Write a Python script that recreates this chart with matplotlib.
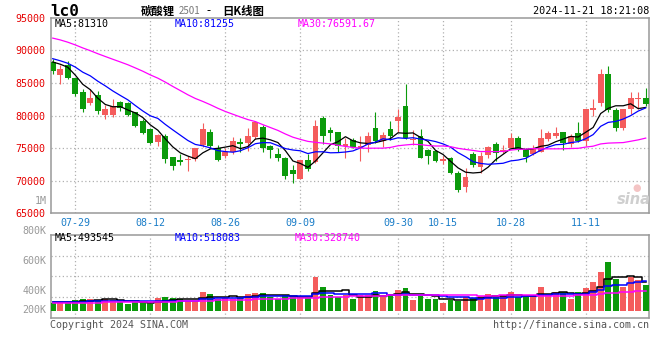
import numpy as np
import pandas as pd
import matplotlib
matplotlib.use("Agg")
import matplotlib.pyplot as plt

# daily K, 07-24 .. 11-21 (80 sessions)
opens = [88218, 86183, 87709, 85775, 83638, 81907, 83128, 80075, 80075, 82009,
         81958, 80482, 79158, 77937, 76002, 76868, 73610, 73203, 73203, 73305,
         75493, 77428, 75086, 73763, 74475, 75951, 75800, 76664, 78242, 75341,
         74119, 73458, 71676, 70200, 73152, 72847, 79616, 77784, 77428, 75290,
         76257, 75086, 75493, 78140, 76104, 77937, 79158, 81500, 76257, 76919,
         74730, 74577, 72949, 73559, 71167, 68978, 74068, 72033, 73966, 75646,
         74374, 75086, 76512, 74730, 74068, 74475, 76410, 76919, 77428, 75646,
         77377, 76155, 80889, 81856, 86437, 80838, 78038, 80991, 82518, 82620]
highs = [88626, 87709, 88320, 85800, 84045, 84045, 83842, 81601, 82518, 82213,
         82060, 80584, 79464, 78040, 77122, 77173, 73650, 74068, 73814, 75000,
         78802, 77937, 75493, 74985, 76766, 76613, 78100, 79158, 78548, 75493,
         74985, 73712, 72440, 73152, 74068, 79311, 79973, 78242, 77530, 76512,
         76512, 76919, 77530, 80584, 77428, 79158, 80991, 84808, 77784, 77937,
         74800, 74730, 73865, 73712, 71422, 71931, 74475, 74475, 75341, 76002,
         75493, 77377, 76919, 74985, 75493, 77937, 77631, 78191, 77450, 77224,
         79057, 81000, 82518, 87200, 87608, 81194, 81000, 83638, 83638, 84248]
lows = [86386, 84808, 85673, 82976, 80584, 81601, 80227, 79515, 79820, 80686,
        79973, 78293, 77224, 75700, 75340, 72643, 71676, 72338, 71524, 72949,
        75239, 74985, 72949, 73458, 74068, 74475, 74600, 76409, 74475, 73559,
        73101, 70251, 69640, 70200, 71524, 72694, 75595, 76104, 74475, 73559,
        74985, 73101, 74475, 75748, 75239, 76257, 77428, 76410, 75493, 73500,
        72592, 72796, 72541, 71014, 68215, 68215, 72033, 71167, 73559, 73050,
        74221, 74985, 74577, 72796, 73966, 74374, 76104, 76613, 74730, 75239,
        76002, 75341, 79922, 81500, 80584, 77631, 77784, 80177, 80991, 81500]
closes = [86793, 87200, 85775, 83281, 80940, 82670, 80686, 80940, 81500, 81093,
          80075, 78446, 77377, 75849, 77020, 73407, 72287, 72796, 73407, 74985,
          77937, 75290, 73203, 74374, 76104, 75646, 76900, 78955, 75086, 74781,
          73559, 70658, 71065, 73152, 71829, 78395, 76919, 77377, 75392, 75697,
          75239, 75341, 76919, 76104, 77020, 76919, 79820, 76512, 76410, 73559,
          73865, 72949, 73356, 71167, 68520, 70556, 72338, 73814, 75137, 74221,
          74730, 76512, 74730, 73712, 74832, 76613, 77377, 77377, 75748, 76868,
          76155, 80991, 81093, 86437, 80838, 78140, 80991, 82620, 82722, 81754]
volumes = [139200, 150800, 127600, 185600, 203000, 203000, 185600, 203000, 185600, 156600,
           116000, 145000, 168200, 116000, 220400, 237800, 220400, 203000, 168200, 168200,
           330600, 290000, 208800, 226200, 203000, 226200, 290000, 307400, 307400, 243600,
           208800, 266800, 249400, 220400, 226200, 591600, 417600, 266800, 232000, 266800,
           203000, 266800, 266800, 342200, 237800, 290000, 359600, 394400, 185600, 261000,
           203000, 203000, 139200, 185600, 174000, 243600, 214600, 255200, 290000, 255200,
           255200, 324800, 243600, 232000, 266800, 411800, 266800, 324800, 324800, 203000,
           324800, 394400, 498800, 672800, 846800, 545200, 411800, 580000, 533600, 446600]

# sessions before 07-24, estimated from where the MA lines start in the picture
prev_closes = [95500, 96200, 95800, 94900, 95300, 94600, 93800, 94200, 93500, 92800,
               93200, 92500, 92900, 92000, 91600, 92300, 91800, 92600, 92100, 91620,
               90400, 89600, 89100, 88800, 88280, 88900, 88100, 89300, 88000]
prev_volumes = [118000, 125000, 112000, 131000, 120000, 127000, 115000, 122000, 119000, 130000,
                124000, 117000, 128000, 121000, 133000, 126000, 119000, 135000, 129000, 122000,
                138000, 131000, 142000, 127000, 136000, 158000, 149000, 162000, 145800]

date_ticks = [3, 13, 23, 33, 46, 52, 61, 71]
date_labels = ["07-29", "08-12", "08-26", "09-09", "09-30", "10-15", "10-28", "11-11"]
price_ticks = [65000, 70000, 75000, 80000, 85000, 90000, 95000]
vol_labels = ["800K", "600K", "400K", "200K"]

RED = "#f45c5c"
GREEN = "#0b9a0b"
GRID = "#b0b0b0"
FRAME = "#999999"
MONO = "DejaVu Sans Mono"
CJK = ["Noto Sans CJK SC", "DejaVu Sans"]

W, H = 660, 360
fig = plt.figure(figsize=(6.6, 3.6), dpi=100)


def fx(px):
    return px / W


def fy(py):
    return 1 - py / H


ax = fig.add_axes([fx(50.7), fy(213.3), (649.3 - 50.7) / W, (213.3 - 17.8) / H])
axv = fig.add_axes([fx(50.7), fy(318), (649.3 - 50.7) / W, (318 - 234.7) / H])

x = np.arange(len(closes))
o = np.array(opens)
c = np.array(closes)
colors = np.where(c >= o, RED, GREEN)

# price panel
ax.vlines(x, lows, highs, colors=colors, lw=0.8, zorder=3)
ax.bar(x, np.maximum(np.abs(c - o), 60), bottom=np.minimum(o, c), width=0.78,
       color=colors, linewidth=0, zorder=4)

all_c = pd.Series(prev_closes + closes, dtype=float)
for n, col in [(5, "black"), (10, "#0000ff"), (30, "#ff00ff")]:
    ma = all_c.rolling(n).mean().values[-len(closes):]
    ax.plot(x, ma, color=col, lw=0.9, zorder=5)

ax.set_xlim(-0.27, 79.48)
ax.set_ylim(65000, 95000)
for v in price_ticks[1:-1]:
    ax.axhline(v, color=GRID, lw=0.9, ls=(0, (1, 2)), zorder=1)
for t in date_ticks:
    ax.axvline(t, color=GRID, lw=0.9, ls=(0, (1, 2)), zorder=1)
ax.set_yticks(price_ticks)
ax.set_yticklabels([str(v) for v in price_ticks], color="#e60000",
                   fontfamily=MONO, fontsize=7.2)
ax.set_xticks(date_ticks)
ax.set_xticklabels(date_labels, color="#1a7dc8", fontfamily=MONO, fontsize=7.2)
ax.tick_params(length=0, pad=3.5)
for s in ax.spines.values():
    s.set_color(FRAME)
    s.set_linewidth(1.1)

# volume panel
axv.bar(x, volumes, width=0.78, color=colors, linewidth=0, zorder=3)
all_v = pd.Series(prev_volumes + volumes, dtype=float)
for n, col in [(5, "black"), (10, "#0000ff"), (30, "#ff00ff")]:
    ma = all_v.rolling(n).mean().values[-len(volumes):]
    axv.plot(x, ma, color=col, lw=1.1, drawstyle="steps-mid", zorder=5)

vmin, vmax = -127000, 1322400
axv.set_xlim(-0.27, 79.48)
axv.set_ylim(vmin, vmax)
for k in (1, 2, 3):
    axv.axhline(vmin + k * (vmax - vmin) / 4, color=GRID, lw=0.9, ls=(0, (1, 2)), zorder=1)
for t in date_ticks:
    axv.axvline(t, color=GRID, lw=0.9, ls=(0, (1, 2)), zorder=1)
axv.set_xticks([])
axv.set_yticks([])
for s in axv.spines.values():
    s.set_color(FRAME)
    s.set_linewidth(1.1)

for lab, py in zip(vol_labels, [230.7, 260.7, 290.7, 310]):
    fig.text(fx(46.5), fy(py), lab, ha="right", va="center", color="#999999",
             fontfamily=MONO, fontsize=7.2)
fig.text(fx(46.5), fy(200.7), "1M", ha="right", va="center", color="#999999",
         fontfamily=MONO, fontsize=7.2)

# legends
for txt, px, col in [("MA5:81310", 55, "black"), ("MA10:81255", 175, "#0000ff"),
                     ("MA30:76591.67", 298, "#ff00ff")]:
    fig.text(fx(px), fy(23.7), txt, ha="left", va="center", color=col,
             fontfamily=MONO, fontsize=7.2)
for txt, px, col in [("MA5:493545", 55, "black"), ("MA10:518083", 175, "#0000ff"),
                     ("MA30:328740", 295, "#ff00ff")]:
    fig.text(fx(px), fy(237.7), txt, ha="left", va="center", color=col,
             fontfamily=MONO, fontsize=7.2)

# header
fig.text(fx(50), fy(11.5), "lc0", ha="left", va="center", fontfamily=MONO,
         fontweight="bold", fontsize=11.5)
fig.text(fx(141), fy(11), "碳酸锂", ha="left", va="center", family=CJK,
         fontsize=8.2, fontweight="bold")
fig.text(fx(178.5), fy(11.5), "2501", ha="left", va="center", color="#777777",
         family=CJK, fontsize=7)
fig.text(fx(206), fy(11), "-", ha="left", va="center", family=CJK, fontsize=8.4)
fig.text(fx(222), fy(11), "日K线图", ha="left", va="center", family=CJK,
         fontsize=8.2, fontweight="bold")
fig.text(fx(649), fy(11.5), "2024-11-21 18:21:08", ha="right", va="center",
         fontfamily=MONO, fontsize=7.3)

# footer
fig.text(fx(50), fy(324.5), "Copyright 2024 SINA.COM", ha="left", va="center",
         color="#555555", fontfamily=MONO, fontsize=7.2)
fig.text(fx(649), fy(324.5), "http://finance.sina.com.cn", ha="right", va="center",
         color="#555555", fontfamily=MONO, fontsize=7.2)

# sina watermark
fig.text(fx(634), fy(200), "sina", ha="center", va="center", color="#cfcfcf",
         style="italic", fontweight="bold", fontsize=10.5)
fig.text(fx(637), fy(188), "●", ha="center", va="center", color="#f4c4c4", fontsize=7)

fig.savefig("out.png", dpi=100)
